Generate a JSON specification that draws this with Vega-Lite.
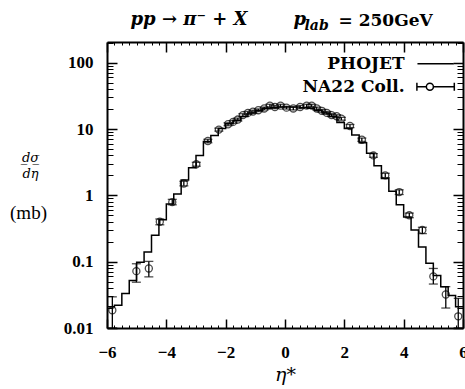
{
  "$schema": "https://vega.github.io/schema/vega-lite/v6.json",
  "width": 356,
  "height": 286,
  "autosize": {"type": "none"},
  "padding": {"left": 107, "top": 42, "right": 2, "bottom": 61},
  "background": "white",
  "config": {
    "view": {"stroke": null},
    "axis": {
      "grid": false,
      "labelColor": "black",
      "tickColor": "black",
      "domainColor": "black",
      "titleColor": "black",
      "labelFont": "Liberation Serif",
      "labelFontWeight": "bold",
      "labelFontSize": 17,
      "titleFont": "Liberation Serif",
      "labelFlush": false,
      "labelOverlap": false
    }
  },
  "datasets": {
    "hist": [
      {"eta": -6, "val": 0.021}, {"eta": -5.75, "val": 0.022}, {"eta": -5.5, "val": 0.033}, {"eta": -5.25, "val": 0.052},
      {"eta": -5, "val": 0.098}, {"eta": -4.75, "val": 0.14}, {"eta": -4.5, "val": 0.25}, {"eta": -4.25, "val": 0.43},
      {"eta": -4, "val": 0.74}, {"eta": -3.75, "val": 1.05}, {"eta": -3.5, "val": 1.7}, {"eta": -3.25, "val": 2.6},
      {"eta": -3, "val": 4.0}, {"eta": -2.75, "val": 6.5}, {"eta": -2.5, "val": 8.0}, {"eta": -2.25, "val": 10.2},
      {"eta": -2, "val": 12.0}, {"eta": -1.75, "val": 13.5}, {"eta": -1.5, "val": 15.5}, {"eta": -1.25, "val": 17.5},
      {"eta": -1, "val": 19.0}, {"eta": -0.75, "val": 20.5}, {"eta": -0.5, "val": 21.0}, {"eta": -0.25, "val": 21.5},
      {"eta": 0, "val": 21.5}, {"eta": 0.25, "val": 21.5}, {"eta": 0.5, "val": 21.0}, {"eta": 0.75, "val": 20.5},
      {"eta": 1, "val": 19.0}, {"eta": 1.25, "val": 17.5}, {"eta": 1.5, "val": 15.5}, {"eta": 1.75, "val": 12.5},
      {"eta": 2, "val": 10.2}, {"eta": 2.25, "val": 8.1}, {"eta": 2.5, "val": 6.2}, {"eta": 2.75, "val": 4.3},
      {"eta": 3, "val": 2.8}, {"eta": 3.25, "val": 1.8}, {"eta": 3.5, "val": 1.15}, {"eta": 3.75, "val": 0.72},
      {"eta": 4, "val": 0.47}, {"eta": 4.25, "val": 0.30}, {"eta": 4.5, "val": 0.167}, {"eta": 4.75, "val": 0.095},
      {"eta": 5, "val": 0.062}, {"eta": 5.25, "val": 0.042}, {"eta": 5.5, "val": 0.031}, {"eta": 5.75, "val": 0.021},
      {"eta": 6, "val": 0.021}
    ],
    "na22": [
      {"eta": -5.82, "val": 0.0185, "lo": 0.01, "hi": 0.0295},
      {"eta": -5.01, "val": 0.072, "lo": 0.049, "hi": 0.093},
      {"eta": -4.59, "val": 0.079, "lo": 0.059, "hi": 0.101},
      {"eta": -4.22, "val": 0.40, "lo": 0.36, "hi": 0.44},
      {"eta": -3.8, "val": 0.79, "lo": 0.72, "hi": 0.87},
      {"eta": -3.41, "val": 1.51, "lo": 1.39, "hi": 1.63},
      {"eta": -2.99, "val": 2.94, "lo": 2.75, "hi": 3.15},
      {"eta": -2.6, "val": 6.6, "lo": 6.2, "hi": 7.0},
      {"eta": -2.23, "val": 9.8, "lo": 9.3, "hi": 10.3},
      {"eta": -1.92, "val": 11.8, "lo": 11.2, "hi": 12.4},
      {"eta": -1.75, "val": 12.8, "lo": 12.2, "hi": 13.4},
      {"eta": -1.59, "val": 13.9, "lo": 13.2, "hi": 14.6},
      {"eta": -1.42, "val": 16.2, "lo": 15.4, "hi": 17.0},
      {"eta": -1.25, "val": 17.5, "lo": 16.6, "hi": 18.4},
      {"eta": -1.08, "val": 18.3, "lo": 17.4, "hi": 19.2},
      {"eta": -0.9, "val": 19.2, "lo": 18.3, "hi": 20.1},
      {"eta": -0.7, "val": 20.4, "lo": 19.4, "hi": 21.4},
      {"eta": -0.51, "val": 22.5, "lo": 21.4, "hi": 23.6},
      {"eta": -0.34, "val": 21.5, "lo": 20.4, "hi": 22.6},
      {"eta": -0.15, "val": 22.5, "lo": 21.4, "hi": 23.6},
      {"eta": 0.05, "val": 21.0, "lo": 20.0, "hi": 22.0},
      {"eta": 0.28, "val": 20.4, "lo": 19.4, "hi": 21.4},
      {"eta": 0.51, "val": 21.5, "lo": 20.4, "hi": 22.6},
      {"eta": 0.73, "val": 22.5, "lo": 21.4, "hi": 23.6},
      {"eta": 0.9, "val": 22.5, "lo": 21.4, "hi": 23.6},
      {"eta": 1.07, "val": 20.4, "lo": 19.4, "hi": 21.4},
      {"eta": 1.24, "val": 18.8, "lo": 17.9, "hi": 19.7},
      {"eta": 1.41, "val": 17.5, "lo": 16.6, "hi": 18.4},
      {"eta": 1.57, "val": 16.2, "lo": 15.4, "hi": 17.0},
      {"eta": 1.74, "val": 15.6, "lo": 14.8, "hi": 16.4},
      {"eta": 1.9, "val": 14.3, "lo": 13.6, "hi": 15.0},
      {"eta": 2.19, "val": 11.1, "lo": 10.5, "hi": 11.7},
      {"eta": 2.59, "val": 6.9, "lo": 6.5, "hi": 7.3},
      {"eta": 2.98, "val": 4.0, "lo": 3.75, "hi": 4.25},
      {"eta": 3.38, "val": 2.0, "lo": 1.85, "hi": 2.15},
      {"eta": 3.85, "val": 1.12, "lo": 1.03, "hi": 1.21},
      {"eta": 4.19, "val": 0.50, "lo": 0.46, "hi": 0.54},
      {"eta": 4.63, "val": 0.30, "lo": 0.265, "hi": 0.33},
      {"eta": 5.0, "val": 0.060, "lo": 0.046, "hi": 0.079},
      {"eta": 5.42, "val": 0.032, "lo": 0.020, "hi": 0.042},
      {"eta": 5.84, "val": 0.015, "lo": 0.01, "hi": 0.028}
    ]
  },
  "layer": [
    {
      "data": {"name": "hist"},
      "mark": {"type": "line", "interpolate": "step-after", "color": "black", "strokeWidth": 1.5, "clip": true},
      "encoding": {
        "x": {
          "field": "eta", "type": "quantitative",
          "scale": {"domain": [-6, 6], "nice": false, "zero": false},
          "axis": {
            "orient": "bottom", "values": [-6, -4, -2, 0, 2, 4, 6], "format": "d",
            "tickSize": -9, "tickWidth": 1.5, "domainWidth": 2, "labelPadding": 25, "labelBaseline": "top",
            "title": "η*", "titleFont": "DejaVu Serif", "titleFontStyle": "italic", "titleFontWeight": "normal",
            "titleFontSize": 19, "titleX": 178, "titleY": 52, "titleAlign": "center", "titleBaseline": "alphabetic"
          }
        },
        "y": {
          "field": "val", "type": "quantitative",
          "scale": {"type": "log", "domain": [0.01, 205], "nice": false},
          "axis": {
            "orient": "left", "values": [0.01, 0.1, 1, 10, 100], "labelExpr": "'' + datum.value",
            "tickSize": -10, "tickWidth": 1.5, "domainWidth": 2, "labelPadding": 24, "labelBaseline": "middle",
            "title": ["d̲σ̲", "dη"], "titleFont": "DejaVu Serif", "titleFontStyle": "italic", "titleFontWeight": "normal",
            "titleFontSize": 13, "titleLineHeight": 16, "titleAngle": 0, "titleX": -77, "titleY": 119,
            "titleAlign": "center", "titleBaseline": "alphabetic"
          }
        }
      }
    },
    {
      "data": {"name": "na22"},
      "mark": {"type": "point", "shape": "circle", "filled": false, "color": "black", "size": 50, "strokeWidth": 1.3, "clip": true},
      "encoding": {
        "x": {
          "field": "eta", "type": "quantitative",
          "scale": {"domain": [-6, 6], "nice": false, "zero": false},
          "axis": {
            "orient": "top", "values": [-6, -4, -2, 0, 2, 4, 6], "labels": false,
            "tickSize": -10, "tickWidth": 1.5, "domainWidth": 2,
            "title": "pp → π⁻ + X", "titleFont": "DejaVu Serif", "titleFontStyle": "italic", "titleFontWeight": "bold",
            "titleFontSize": 18, "titleX": 23, "titleY": -17.5, "titleAlign": "left", "titleBaseline": "alphabetic"
          }
        },
        "y": {
          "field": "val", "type": "quantitative",
          "scale": {"type": "log", "domain": [0.01, 205], "nice": false},
          "axis": {
            "orient": "right", "values": [0.01, 0.1, 1, 10, 100], "labels": false,
            "tickSize": -10, "tickWidth": 1.5, "domainWidth": 2,
            "title": "= 250GeV", "titleFont": "DejaVu Serif", "titleFontWeight": "bold", "titleFontSize": 17,
            "titleAngle": 0, "titleX": -125, "titleY": -17, "titleAlign": "left", "titleBaseline": "alphabetic"
          }
        }
      }
    },
    {
      "data": {"name": "na22"},
      "mark": {"type": "rule", "color": "black", "strokeWidth": 1.3, "clip": true},
      "encoding": {
        "x": {
          "field": "eta", "type": "quantitative",
          "scale": {"domain": [-6, 6], "nice": false, "zero": false},
          "axis": {
            "orient": "bottom", "labels": false, "domain": false, "tickSize": -3, "tickWidth": 1,
            "values": [-5.75,-5.5,-5.25,-5,-4.75,-4.5,-4.25,-3.75,-3.5,-3.25,-3,-2.75,-2.5,-2.25,-1.75,-1.5,-1.25,-1,-0.75,-0.5,-0.25,0.25,0.5,0.75,1,1.25,1.5,1.75,2.25,2.5,2.75,3,3.25,3.5,3.75,4.25,4.5,4.75,5,5.25,5.5,5.75],
            "title": null
          }
        },
        "y": {
          "field": "lo", "type": "quantitative",
          "scale": {"type": "log", "domain": [0.01, 205], "nice": false},
          "axis": {
            "orient": "left", "labels": false, "domain": false, "tickSize": -6, "tickWidth": 1,
            "values": [0.02,0.03,0.04,0.05,0.06,0.07,0.08,0.09,0.2,0.3,0.4,0.5,0.6,0.7,0.8,0.9,2,3,4,5,6,7,8,9,20,30,40,50,60,70,80,90,200],
            "title": "(mb)", "titleFont": "Liberation Serif", "titleFontWeight": "normal", "titleFontSize": 19,
            "titleAngle": 0, "titleX": -79, "titleY": 176, "titleAlign": "center", "titleBaseline": "alphabetic"
          }
        },
        "y2": {"field": "hi"}
      }
    },
    {
      "data": {"name": "na22"},
      "mark": {"type": "tick", "orient": "horizontal", "color": "black", "size": 9, "thickness": 1.3, "clip": true},
      "encoding": {
        "x": {
          "field": "eta", "type": "quantitative",
          "scale": {"domain": [-6, 6], "nice": false, "zero": false},
          "axis": {
            "orient": "top", "labels": false, "domain": false, "tickSize": -3, "tickWidth": 1,
            "values": [-5.75,-5.5,-5.25,-5,-4.75,-4.5,-4.25,-3.75,-3.5,-3.25,-3,-2.75,-2.5,-2.25,-1.75,-1.5,-1.25,-1,-0.75,-0.5,-0.25,0.25,0.5,0.75,1,1.25,1.5,1.75,2.25,2.5,2.75,3,3.25,3.5,3.75,4.25,4.5,4.75,5,5.25,5.5,5.75],
            "title": "p", "titleFont": "DejaVu Serif", "titleFontStyle": "italic", "titleFontWeight": "bold",
            "titleFontSize": 18, "titleX": 186, "titleY": -17.5, "titleAlign": "left", "titleBaseline": "alphabetic"
          }
        },
        "y": {
          "field": "lo", "type": "quantitative",
          "scale": {"type": "log", "domain": [0.01, 205], "nice": false},
          "axis": {
            "orient": "right", "labels": false, "domain": false, "tickSize": -6, "tickWidth": 1,
            "values": [0.02,0.03,0.04,0.05,0.06,0.07,0.08,0.09,0.2,0.3,0.4,0.5,0.6,0.7,0.8,0.9,2,3,4,5,6,7,8,9,20,30,40,50,60,70,80,90,200],
            "title": "lab", "titleFont": "DejaVu Serif", "titleFontStyle": "italic", "titleFontWeight": "bold",
            "titleFontSize": 14, "titleAngle": 0, "titleX": -159, "titleY": -13, "titleAlign": "left", "titleBaseline": "alphabetic"
          }
        }
      }
    },
    {
      "data": {"name": "na22"},
      "mark": {"type": "tick", "orient": "horizontal", "color": "black", "size": 9, "thickness": 1.3, "clip": true},
      "encoding": {
        "x": {"field": "eta", "type": "quantitative", "scale": {"domain": [-6, 6], "nice": false, "zero": false}, "axis": null},
        "y": {"field": "hi", "type": "quantitative", "scale": {"type": "log", "domain": [0.01, 205], "nice": false}, "axis": null}
      }
    },
    {
      "data": {"values": []},
      "mark": {"type": "point", "filled": false, "color": "black", "strokeWidth": 1.5},
      "encoding": {
        "shape": {
          "field": "series", "type": "nominal",
          "scale": {
            "domain": ["PHOJET", "NA22 Coll."],
            "range": ["M-1.65,0H1.65", "M-1.7,-0.36V0.36M1.7,-0.36V0.36M-1.7,0H-0.84M-0.2,0H1.7M-0.84,0A0.32,0.32 0 1,1 -0.2,0A0.32,0.32 0 1,1 -0.84,0"]
          },
          "legend": {
            "orient": "none", "legendX": 316.6, "legendY": 9.7, "title": null,
            "symbolSize": 484, "symbolStrokeWidth": 1.5, "symbolStrokeColor": "black", "symbolFillColor": "transparent",
            "symbolOpacity": 1,
            "labelFont": "DejaVu Serif", "labelFontWeight": "bold", "labelFontSize": 17, "labelColor": "black",
            "labelAlign": "right", "labelBaseline": "middle", "labelOffset": -43, "rowPadding": 3, "padding": 0, "labelLimit": 0
          }
        }
      }
    }
  ],
  "resolve": {"axis": {"x": "independent", "y": "independent"}}
}
